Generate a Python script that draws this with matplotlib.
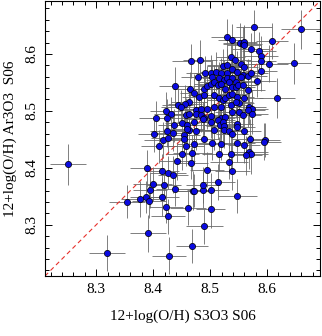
import matplotlib
matplotlib.use("Agg")
import matplotlib.pyplot as plt
from matplotlib.ticker import MultipleLocator

x_s3o3 = [
    8.577, 8.659, 8.530, 8.538, 8.553, 8.557, 8.560, 8.560, 8.609, 8.571,
    8.586, 8.467, 8.482, 8.536, 8.543, 8.590, 8.589, 8.604, 8.647, 8.522,
    8.530, 8.554, 8.559, 8.589, 8.491, 8.502, 8.510, 8.519, 8.530, 8.538,
    8.548, 8.557, 8.566, 8.571, 8.504, 8.516, 8.525, 8.530, 8.539, 8.545,
    8.554, 8.478, 8.489, 8.495, 8.501, 8.507, 8.513, 8.519, 8.527, 8.533,
    8.539, 8.545, 8.549, 8.557, 8.566, 8.583, 8.438, 8.617, 8.465, 8.472,
    8.481, 8.489, 8.507, 8.516, 8.522, 8.527, 8.533, 8.539, 8.547, 8.551,
    8.560, 8.568, 8.574, 8.463, 8.456, 8.443, 8.449, 8.475, 8.484, 8.495,
    8.507, 8.519, 8.536, 8.545, 8.422, 8.432, 8.425, 8.457, 8.463, 8.475,
    8.484, 8.489, 8.501, 8.519, 8.527, 8.539, 8.551, 8.557, 8.566, 8.574,
    8.451, 8.460, 8.437, 8.472, 8.487, 8.501, 8.513, 8.518, 8.522, 8.525,
    8.548, 8.548, 8.463, 8.475, 8.425, 8.434, 8.454, 8.460, 8.489, 8.507,
    8.525, 8.533, 8.539, 8.559, 8.570, 8.596, 8.595, 8.418, 8.426, 8.454,
    8.457, 8.472, 8.504, 8.519, 8.548, 8.559, 8.568, 8.571, 8.451, 8.469,
    8.516, 8.536, 8.442, 8.466, 8.533, 8.563,
    8.416, 8.426, 8.435, 8.495, 8.539, 8.419, 8.514, 8.438, 8.470, 8.472,
    8.487, 8.501, 8.488, 8.548, 8.416, 8.422, 8.461, 8.501, 8.426, 8.490,
    8.468, 8.428,
    8.250, 8.405, 8.401, 8.410, 8.389, 8.399, 8.394, 8.387, 8.377, 8.392,
    8.354, 8.391, 8.319,
]

y_ar3o3 = [
    8.647, 8.643, 8.630, 8.625, 8.620, 8.618, 8.621, 8.615, 8.623, 8.608,
    8.605, 8.588, 8.589, 8.594, 8.590, 8.597, 8.588, 8.583, 8.584, 8.579,
    8.580, 8.583, 8.577, 8.570, 8.567, 8.567, 8.569, 8.566, 8.566, 8.573,
    8.569, 8.563, 8.561, 8.566, 8.559, 8.557, 8.554, 8.557, 8.557, 8.551,
    8.560, 8.559, 8.539, 8.543, 8.548, 8.551, 8.545, 8.548, 8.539, 8.551,
    8.542, 8.542, 8.545, 8.545, 8.536, 8.553, 8.544, 8.523, 8.538, 8.531,
    8.525, 8.528, 8.528, 8.522, 8.519, 8.522, 8.528, 8.529, 8.525, 8.513,
    8.522, 8.507, 8.504, 8.516, 8.512, 8.510, 8.507, 8.501, 8.504, 8.504,
    8.507, 8.507, 8.510, 8.516, 8.500, 8.495, 8.487, 8.493, 8.495, 8.495,
    8.493, 8.487, 8.491, 8.487, 8.490, 8.498, 8.498, 8.493, 8.501, 8.495,
    8.479, 8.475, 8.475, 8.481, 8.485, 8.481, 8.484, 8.475, 8.481, 8.473,
    8.477, 8.471, 8.466, 8.465, 8.465, 8.461, 8.457, 8.469, 8.451, 8.466,
    8.466, 8.464, 8.460, 8.465, 8.451, 8.449, 8.446, 8.449, 8.453, 8.450,
    8.438, 8.442, 8.444, 8.442, 8.444, 8.440, 8.428, 8.424, 8.425, 8.426,
    8.425, 8.424, 8.412, 8.408, 8.411, 8.422,
    8.394, 8.391, 8.388, 8.397, 8.394, 8.369, 8.375, 8.363, 8.360, 8.360,
    8.361, 8.361, 8.370, 8.350, 8.349, 8.332, 8.330, 8.327, 8.315, 8.297,
    8.263, 8.246,
    8.406, 8.487, 8.459, 8.438, 8.399, 8.371, 8.361, 8.349, 8.345, 8.342,
    8.340, 8.285, 8.250,
]

x_err = [
    .032, .035, .028, .025, .030, .035, .022, .030, .028, .033,
    .030, .034, .030, .025, .028, .030, .026, .032, .030, .027,
    .035, .030, .025, .028, .033, .030, .027, .032, .029, .025,
    .031, .028, .034, .030, .026, .030, .033, .028, .030, .035,
    .027, .030, .032, .025, .030, .028, .034, .030, .026, .031,
    .029, .033, .030, .027, .030, .032, .028, .032, .030, .025,
    .030, .028, .031, .034, .027, .030, .032, .029, .030, .026,
    .033, .030, .028, .031, .030, .027, .035, .030, .029, .032,
    .030, .026, .033, .030, .028, .031, .030, .034, .027, .030,
    .032, .029, .030, .025, .031, .030, .028, .033, .030, .027,
    .030, .034, .028, .030, .032, .026, .030, .031, .029, .033,
    .028, .030, .035, .027, .030, .032, .029, .030, .026, .031,
    .030, .033, .028, .030, .031, .027, .030, .034, .029, .030,
    .032, .030, .026, .031, .030, .028, .033, .030, .029, .035,
    .030, .027, .031, .030, .034, .028,
    .030, .032, .026, .030, .031, .029, .030, .033, .027, .030,
    .028, .032, .030, .034, .029, .030, .031, .026, .030, .033,
    .028, .030,
    .032, .030, .028, .031, .030, .034, .030, .027, .033, .030,
    .032, .031, .032,
]

y_err = [
    .030, .035, .032, .028, .034, .030, .027, .036, .031, .029,
    .033, .030, .035, .028, .031, .034, .029, .032, .036, .030,
    .028, .033, .030, .035, .029, .031, .034, .027, .032, .030,
    .036, .029, .031, .033, .030, .028, .035, .031, .029, .034,
    .030, .032, .028, .036, .031, .030, .033, .029, .034, .030,
    .031, .028, .035, .030, .032, .029, .033, .035, .030, .034,
    .029, .031, .030, .036, .028, .032, .030, .033, .031, .029,
    .035, .030, .032, .028, .034, .031, .030, .033, .029, .036,
    .030, .032, .031, .028, .034, .030, .033, .029, .031, .035,
    .030, .028, .032, .034, .030, .031, .029, .033, .030, .036,
    .032, .030, .029, .034, .031, .028, .033, .030, .035, .031,
    .029, .032, .030, .034, .028, .031, .033, .030, .029, .035,
    .031, .030, .032, .028, .034, .030, .033, .031, .029, .030,
    .035, .032, .030, .028, .033, .031, .030, .034, .029, .032,
    .030, .031, .033, .028, .030, .034,
    .031, .029, .032, .030, .033, .028, .031, .030, .034, .029,
    .032, .030, .031, .030, .033, .029, .030, .032, .031, .030,
    .030, .032,
    .036, .030, .031, .029, .033, .030, .032, .028, .031, .030,
    .029, .032, .032,
]

x_label = "12+log(O/H) S3O3 S06"
y_label = "12+log(O/H) Ar3O3  S06"
lims = (8.21, 8.693)

plt.rcParams["font.family"] = ["Liberation Serif", "DejaVu Serif"]
plt.rcParams["mathtext.fontset"] = "stix"

fig = plt.figure(figsize=(3.22, 3.36), dpi=100)
ax = fig.add_axes([45 / 322, 1 - 276 / 336, 275 / 322, 275 / 336])

ax.errorbar(x_s3o3, y_ar3o3, xerr=x_err, yerr=y_err, fmt="none",
            ecolor="#6a6a6a", elinewidth=0.6, capsize=0, zorder=1)
ax.plot(lims, lims, linestyle=(0, (4, 3)), color="#e8302a", lw=0.8, zorder=2)
ax.scatter(x_s3o3, y_ar3o3, s=20, c="#0a0ae0", edgecolors="black",
           linewidths=0.5, zorder=3)

ax.set_xlim(lims)
ax.set_ylim(lims)
ax.xaxis.set_major_locator(MultipleLocator(0.1))
ax.yaxis.set_major_locator(MultipleLocator(0.1))
ax.xaxis.set_minor_locator(MultipleLocator(0.02))
ax.yaxis.set_minor_locator(MultipleLocator(0.02))
ax.tick_params(which="both", direction="in", top=True, right=True,
               labelsize=11, width=0.7)
ax.tick_params(which="major", length=5, pad=5)
ax.tick_params(which="minor", length=3)
for lab in ax.get_yticklabels():
    lab.set_rotation(90)
    lab.set_va("center")
for sp in ax.spines.values():
    sp.set_linewidth(0.8)

ax.set_xlabel(x_label, fontsize=11, labelpad=10)
ax.set_ylabel(y_label, fontsize=11, labelpad=6)

fig.savefig("out.png", dpi=100)
